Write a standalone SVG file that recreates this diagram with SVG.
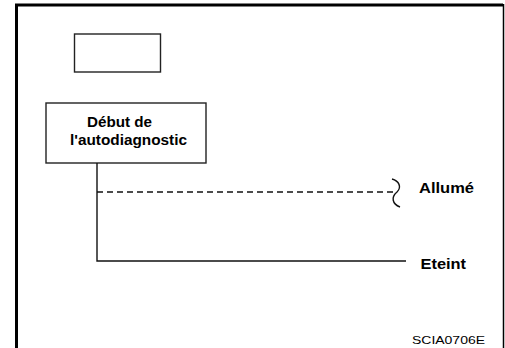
<svg xmlns="http://www.w3.org/2000/svg" width="505" height="348" viewBox="0 0 505 348">
<style>
.frame{fill:none;stroke:#000}
.box{fill:#fff;stroke:#222;stroke-width:1.4}
.ln{fill:none;stroke:#111;stroke-width:1.4}
.dash{stroke-dasharray:6,4}
.b{font-family:"Liberation Sans",Arial,sans-serif;font-weight:bold;font-size:14px;fill:#000}
.r{font-family:"Liberation Sans",Arial,sans-serif;font-size:11.5px;fill:#000}
</style>
<rect width="505" height="348" fill="#fff"/>
<g id="frame">
<path class="frame" d="M16.5,348 V5 H503" stroke-width="3"/>
<path class="frame" d="M503.5,4 V348" stroke-width="1.5"/>
</g>
<g id="box-empty"><rect class="box" x="74.5" y="34" width="86" height="38"/></g>
<g id="box-debut">
<rect class="box" x="46" y="103" width="160" height="60"/>
<text class="b" x="87" y="127" textLength="65" lengthAdjust="spacingAndGlyphs">Début de</text>
<text class="b" x="70" y="145" textLength="117" lengthAdjust="spacingAndGlyphs">l'autodiagnostic</text>
</g>
<g id="connectors">
<path class="ln" d="M97,163 V261 H406"/>
<path class="ln dash" d="M97,192 H395"/>
<path class="ln" d="M392,179 C399,181 402,187 397,192 C391,197 392,204 400,207"/>
</g>
<g id="label-allume"><text class="b" x="419" y="193" textLength="55" lengthAdjust="spacingAndGlyphs">Allumé</text></g>
<g id="label-eteint"><text class="b" x="420.5" y="269" textLength="45.5" lengthAdjust="spacingAndGlyphs">Eteint</text></g>
<g id="code"><text class="r" x="412" y="344" textLength="73" lengthAdjust="spacingAndGlyphs">SCIA0706E</text></g>
</svg>
